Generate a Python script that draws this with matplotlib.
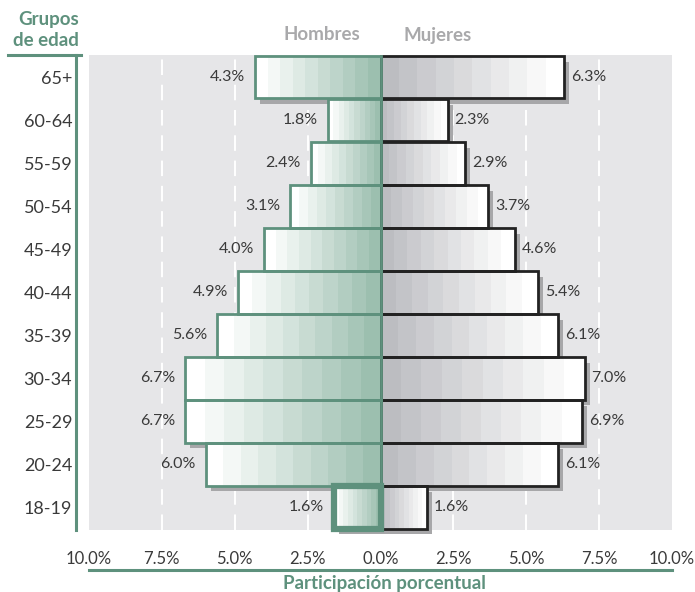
import matplotlib
matplotlib.use('Agg')
import matplotlib.pyplot as plt
import numpy as np
from matplotlib.lines import Line2D
from matplotlib.colors import LinearSegmentedColormap

plt.rcParams['font.family'] = ['Lato', 'DejaVu Sans']

# Data
grupos = ['65+', '60-64', '55-59', '50-54', '45-49', '40-44',
          '35-39', '30-34', '25-29', '20-24', '18-19']
hombres = [4.3, 1.8, 2.4, 3.1, 4.0, 4.9, 5.6, 6.7, 6.7, 6.0, 1.6]
mujeres = [6.3, 2.3, 2.9, 3.7, 4.6, 5.4, 6.1, 7.0, 6.9, 6.1, 1.6]
xticks = [-10, -7.5, -5, -2.5, 0, 2.5, 5, 7.5, 10]

verde = '#5e917d'
texto = '#3a3a3a'
cm_h = LinearSegmentedColormap.from_list('h', ['#ffffff', '#9cbfaf'])
cm_m = LinearSegmentedColormap.from_list('m', ['#bcbdc1', '#ffffff'])
n_bandas = 10
alto = 0.98
sx, sy = 0.17, 0.12  # desplazamiento de la sombra

fig = plt.figure(figsize=(6.95, 5.92), dpi=100)
ax = fig.add_axes([0.128, 0.105, 0.839, 0.802])
ax.set_facecolor('#e6e6e8')

y = np.arange(len(grupos))[::-1]

for xv in [-7.5, -5, -2.5, 2.5, 5, 7.5]:
    ax.axvline(xv, color='white', lw=1.4, ls=(0, (8, 5)), zorder=1)

for i, (h, m) in enumerate(zip(hombres, mujeres)):
    yi = y[i]
    # sombras
    ax.barh(yi - sy, h, left=-h + sx, height=alto, color='#a7a7a9', zorder=2, clip_on=False)
    ax.barh(yi - sy, m, left=sx, height=alto, color='#a7a7a9', zorder=2, clip_on=False)

for i, (h, m) in enumerate(zip(hombres, mujeres)):
    yi = y[i]
    # bandas de degradado
    for k in range(n_bandas):
        ax.barh(yi, h / n_bandas, left=-h + k * h / n_bandas, height=alto,
                color=cm_h(k / (n_bandas - 1)), lw=0, zorder=3, clip_on=False)
        ax.barh(yi, m / n_bandas, left=k * m / n_bandas, height=alto,
                color=cm_m(k / (n_bandas - 1)), lw=0, zorder=3, clip_on=False)
    lw_h = 4.5 if grupos[i] == '18-19' else 2.0
    ax.barh(yi, h, left=-h, height=alto, fill=False, edgecolor=verde, lw=lw_h,
            zorder=5, clip_on=False)
    ax.barh(yi, m, left=0, height=alto, fill=False, edgecolor='#222222', lw=2.0,
            zorder=4, clip_on=False)
    ax.annotate(f'{h:.1f}%', (-h, yi), xytext=(-7, 0), textcoords='offset points',
                ha='right', va='center', fontsize=11.5, color=texto)
    ax.annotate(f'{m:.1f}%', (m, yi), xytext=(5, 0), textcoords='offset points',
                ha='left', va='center', fontsize=11.5, color=texto)

ax.set_xlim(-10, 10)
ax.set_ylim(-0.52, 10.52)
ax.set_yticks(y, grupos)
ax.set_xticks(xticks, [f'{abs(v):.1f}%' for v in xticks])
ax.tick_params(axis='both', length=0, labelcolor=texto)
ax.tick_params(axis='x', pad=15, labelsize=12)
ax.tick_params(axis='y', pad=3, labelsize=13)

for s in ['top', 'right', 'bottom']:
    ax.spines[s].set_visible(False)
ax.spines['left'].set_position(('outward', 9))
ax.spines['left'].set_color(verde)
ax.spines['left'].set_linewidth(2.2)

ax.plot([0, 1], [-0.084, -0.084], transform=ax.transAxes, color=verde,
        lw=2.2, clip_on=False)
fig.add_artist(Line2D([8 / 695, 81 / 695], [1 - 55 / 592, 1 - 55 / 592],
                      color=verde, lw=2.2))

fig.text(79 / 695, 1 - 20 / 592, 'Grupos', ha='right', va='center',
         fontsize=13.5, fontweight='bold', color=verde)
fig.text(79 / 695, 1 - 41 / 592, 'de edad', ha='right', va='center',
         fontsize=13.5, fontweight='bold', color=verde)
fig.text(322 / 695, 1 - 35 / 592, 'Hombres', ha='center', va='center',
         fontsize=13.5, fontweight='bold', color='#a9a9ab')
fig.text(438 / 695, 1 - 35 / 592, 'Mujeres', ha='center', va='center',
         fontsize=13.5, fontweight='bold', color='#a9a9ab')
fig.text(384 / 695, 1 - 583 / 592, 'Participación porcentual', ha='center',
         va='center', fontsize=13.5, fontweight='bold', color=verde)

fig.savefig('out.png', dpi=100)
